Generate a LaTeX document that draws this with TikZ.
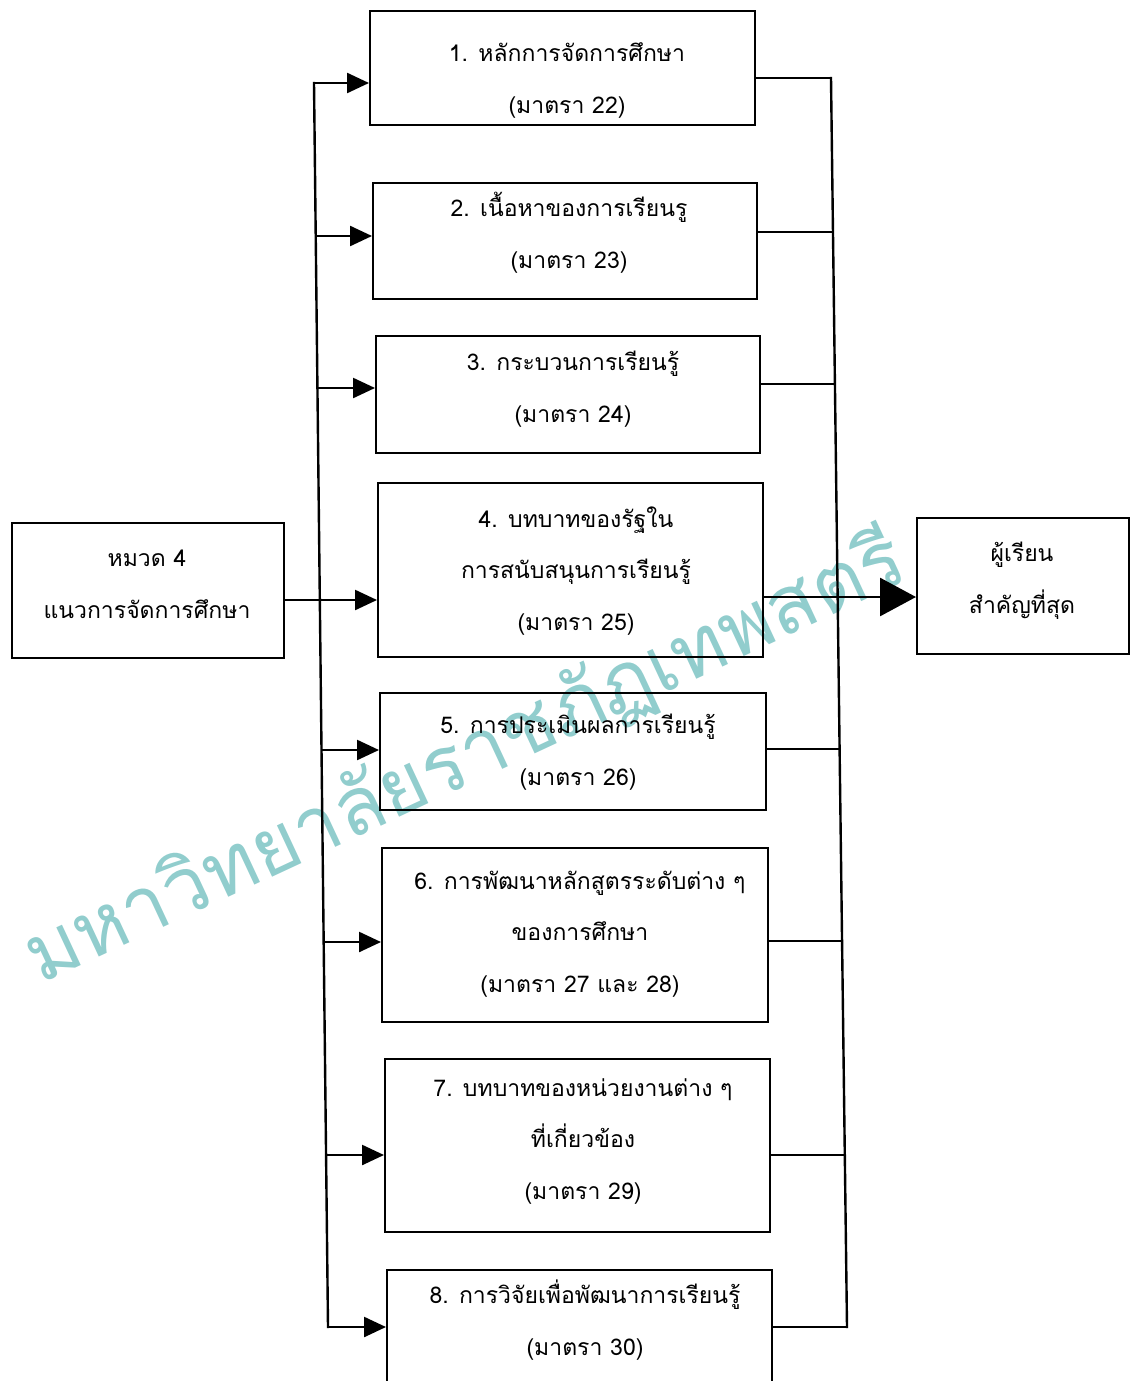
\documentclass[tikz,border=0pt]{standalone}
\usepackage{fontspec}
\newfontfamily\thai[Script=Thai]{Loma}
\usetikzlibrary{arrows.meta}
\definecolor{wm}{RGB}{145,205,205}
\begin{document}
\begin{tikzpicture}[x=1pt,y=-1pt,
  box/.style={draw, line width=2.4pt, anchor=north west, inner sep=0pt},
  lbl/.style={anchor=base, align=center, inner sep=0pt, font=\thai\fontsize{23}{51.5}\selectfont},
  wmtext/.style={text=wm, inner sep=0pt, font=\thai\fontsize{80}{90}\selectfont},
  ln/.style={line width=2.4pt, line cap=rect},
  arr/.style={line width=2.4pt, -{Triangle[length=22pt,width=20pt]}},
  bigarr/.style={line width=2.8pt, -{Triangle[length=36pt,width=38pt]}}]
\useasboundingbox (0,0) rectangle (1132,1381);
\clip (0,0) rectangle (1132,1381);
% watermark
\node[wmtext, rotate=25, anchor=base west] (wm) at (40,985) {มหาวิทยาลัยราชภัฏเทพสตรี};
% boxes
\node[box, minimum width=272pt, minimum height=135pt] (L) at (11,522) {};
\node[box, minimum width=212pt, minimum height=136pt] (R) at (916,517) {};
\node[box, minimum width=385pt, minimum height=114pt] (b1) at (369,10) {};
\node[box, minimum width=384pt, minimum height=116pt] (b2) at (372,182) {};
\node[box, minimum width=384pt, minimum height=117pt] (b3) at (375,335) {};
\node[box, minimum width=385pt, minimum height=174pt] (b4) at (377,482) {};
\node[box, minimum width=386pt, minimum height=117pt] (b5) at (379,692) {};
\node[box, minimum width=386pt, minimum height=174pt] (b6) at (381,847) {};
\node[box, minimum width=385pt, minimum height=173pt] (b7) at (384,1058) {};
\node[box, minimum width=385pt, minimum height=160pt] (b8) at (386,1269) {};
% texts (anchor = baseline of last line)
\node[lbl] (tL) at (147,618) {หมวด 4\\แนวการจัดการศึกษา};
\node[lbl] (tR) at (1022,613) {ผู้เรียน\\สำคัญที่สุด};
\node[lbl] (t1) at (567,113) {1. หลักการจัดการศึกษา\\(มาตรา 22)};
\node[lbl] (t2) at (569,268) {2. เนื้อหาของการเรียนรู\\(มาตรา 23)};
\node[lbl] (t3) at (573,422) {3. กระบวนการเรียนรู้\\(มาตรา 24)};
\node[lbl] (t4) at (576,630) {4. บทบาทของรัฐใน\\การสนับสนุนการเรียนรู้\\(มาตรา 25)};
\node[lbl] (t5) at (578,785) {5. การประเมินผลการเรียนรู้\\(มาตรา 26)};
\node[lbl] (t6) at (580,992) {6. การพัฒนาหลักสูตรระดับต่าง ๆ\\ของการศึกษา\\(มาตรา 27 และ 28)};
\node[lbl] (t7) at (583,1199) {7. บทบาทของหน่วยงานต่าง ๆ\\ที่เกี่ยวข้อง\\(มาตรา 29)};
\node[lbl] (t8) at (585,1355) {8. การวิจัยเพื่อพัฒนาการเรียนรู้\\(มาตรา 30)};
% left bus
\coordinate (l1) at (314,83);
\coordinate (l2) at (315.7,236);
\coordinate (l3) at (317.4,388);
\coordinate (l4) at (319.8,600);
\coordinate (l5) at (321.5,750);
\coordinate (l6) at (323.7,942);
\coordinate (l7) at (326.1,1155);
\coordinate (l8) at (328,1327);
\draw[ln] (l1) -- (l8);
\draw[arr] (l1) -- (b1.west |- l1);
\draw[arr] (l2) -- (b2.west |- l2);
\draw[arr] (l3) -- (b3.west |- l3);
\draw[arr] (L.east |- l4) -- (b4.west |- l4);
\draw[arr] (l5) -- (b5.west |- l5);
\draw[arr] (l6) -- (b6.west |- l6);
\draw[arr] (l7) -- (b7.west |- l7);
\draw[arr] (l8) -- (b8.west |- l8);
% right bus
\coordinate (r1) at (831,78);
\coordinate (r2) at (833,232);
\coordinate (r3) at (834.9,384);
\coordinate (r4) at (837.6,597);
\coordinate (r5) at (839.6,749);
\coordinate (r6) at (842,941);
\coordinate (r7) at (844.8,1155);
\coordinate (r8) at (847,1327);
\draw[ln] (r1) -- (r8);
\draw[ln] (b1.east |- r1) -- (r1);
\draw[ln] (b2.east |- r2) -- (r2);
\draw[ln] (b3.east |- r3) -- (r3);
\draw[ln] (b5.east |- r5) -- (r5);
\draw[ln] (b6.east |- r6) -- (r6);
\draw[ln] (b7.east |- r7) -- (r7);
\draw[ln] (b8.east |- r8) -- (r8);
\draw[bigarr] (b4.east |- r4) -- (R.west |- r4);
\end{tikzpicture}
\end{document}
